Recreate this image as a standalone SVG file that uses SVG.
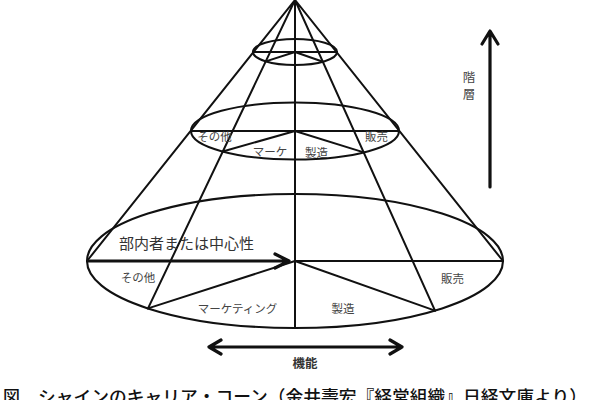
<svg xmlns="http://www.w3.org/2000/svg" width="600" height="400" viewBox="0 0 600 400">
<style>
.ln{fill:none;stroke:#111;stroke-width:2;stroke-linecap:round}
.el{fill:none;stroke:#111;stroke-width:2.1}
.lb{font-family:"Noto Sans CJK JP","Noto Sans",sans-serif;fill:#444;font-size:11.5px;text-anchor:middle}
.big{font-family:"Noto Sans CJK JP","Noto Sans",sans-serif;fill:#333;font-size:15px;text-anchor:middle}
.cap{font-family:"Noto Sans CJK JP","Noto Sans",sans-serif;fill:#111;font-size:17px;font-weight:500}
.ar{fill:none;stroke:#111;stroke-width:3.2;stroke-linecap:round;stroke-linejoin:round}
</style>
<rect width="600" height="400" fill="#fff"/>
<g id="cone">
<path class="ln" d="M295,0 L87,261 M295,0 L503,261 M295,0 L295,328 M295,0 L148,308.4 M295,0 L435,310.6"/>
</g>
<g id="ellipse-top">
<ellipse class="el" cx="295" cy="52" rx="42" ry="13"/>
<path class="ln" d="M253,52 L337,52 M295,52 L265.8,61.4 M295,52 L322.9,61.7"/>
</g>
<g id="ellipse-middle">
<ellipse class="el" cx="295" cy="131" rx="104" ry="28.5"/>
<path class="ln" d="M191,131 L399,131 M295,131 L222.7,151.5 M295,131 L363.8,152.4"/>
<text class="lb" x="214.5" y="141">その他</text>
<text class="lb" x="270" y="156">マーケ</text>
<text class="lb" x="316.5" y="157">製造</text>
<text class="lb" x="376.5" y="141">販売</text>
</g>
<g id="ellipse-bottom">
<ellipse class="el" cx="295" cy="261" rx="208" ry="67"/>
<path class="ln" d="M295,261 L503,261 M295,261 L148,308.4 M295,261 L435,310.6"/>
<text class="lb" x="138" y="282">その他</text>
<text class="lb" x="237.5" y="313">マーケティング</text>
<text class="lb" x="343" y="313">製造</text>
<text class="lb" x="452.5" y="283">販売</text>
</g>
<g id="connectors">
<path class="ar" d="M88,261 L288,261 M275,254 L289,261 L275,268"/>
<path class="ar" d="M490,187 L490,31 M482,44 L490,31 L498,44"/>
<path class="ar" d="M209,347 L402,347 M221,340 L209,347 L221,354 M390,340 L402,347 L390,354"/>
</g>
<g id="labels">
<text class="big" x="186.5" y="248.5">部内者または中心性</text>
<text class="lb" style="font-size:12.5px"><tspan x="469" y="82">階</tspan><tspan x="469" y="98.5">層</tspan></text>
<text class="lb" x="305" y="367.5" style="font-size:12.5px;font-weight:bold;fill:#333">機能</text>
</g>
<g id="caption">
<text class="cap" x="3" y="403">図</text>
<text class="cap" x="38" y="403" textLength="549" lengthAdjust="spacingAndGlyphs">シャインのキャリア・コーン（金井壽宏『経営組織』日経文庫より）</text>
</g>
</svg>
